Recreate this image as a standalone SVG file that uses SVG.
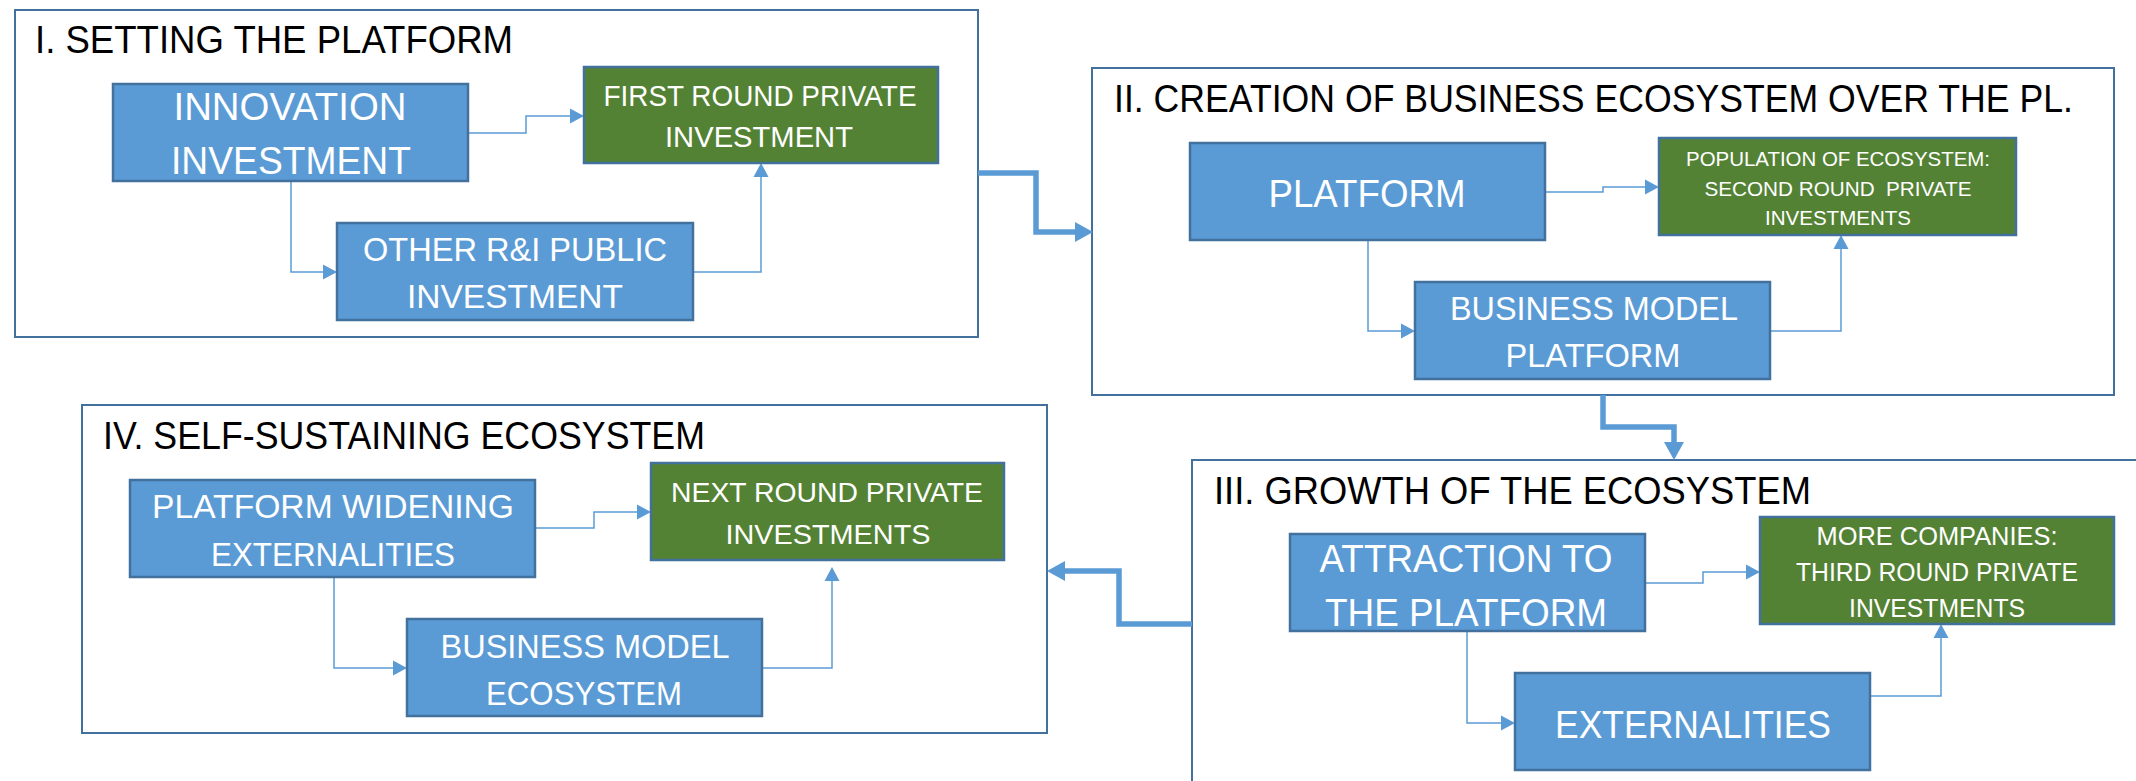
<svg xmlns="http://www.w3.org/2000/svg" width="2136" height="781" viewBox="0 0 2136 781">
<defs>
<style>
.frame{fill:#fff;stroke:#41719C;stroke-width:2}
.blue{fill:#5B9BD5;stroke:#41719C;stroke-width:2.5}
.green{fill:#548235;stroke:#41719C;stroke-width:2.5}
.title{font-family:"Liberation Sans",Arial,sans-serif;font-size:38px;fill:#000}
.t{font-family:"Liberation Sans",Arial,sans-serif;fill:#fff;text-anchor:middle}
.thin{fill:none;stroke:#5B9BD5;stroke-width:1.5}
.thick{fill:none;stroke:#5B9BD5;stroke-width:5.5}
</style>
<marker id="ah" markerUnits="userSpaceOnUse" markerWidth="14" markerHeight="15" refX="0" refY="7.5" orient="auto" overflow="visible">
<path d="M0,0 L14,7.5 L0,15 Z" fill="#5B9BD5"/>
</marker>
<marker id="ahT" markerUnits="userSpaceOnUse" markerWidth="18" markerHeight="20" refX="0" refY="10" orient="auto" overflow="visible">
<path d="M0,0 L18,10 L0,20 Z" fill="#5B9BD5"/>
</marker>
</defs>
<rect width="2136" height="781" fill="#fff"/>

<g id="frame1">
<rect class="frame" x="15" y="10" width="963" height="327"/>
<text class="title" x="35" y="53" textLength="478" lengthAdjust="spacingAndGlyphs">I. SETTING THE PLATFORM</text>
</g>
<g id="frame2">
<rect class="frame" x="1092" y="68" width="1022" height="327"/>
<text class="title" x="1114" y="112" textLength="959" lengthAdjust="spacingAndGlyphs">II. CREATION OF BUSINESS ECOSYSTEM OVER THE PL.</text>
</g>
<g id="frame3">
<rect class="frame" x="1192" y="460" width="1000" height="400"/>
<text class="title" x="1214" y="504" textLength="597" lengthAdjust="spacingAndGlyphs">III. GROWTH OF THE ECOSYSTEM</text>
</g>
<g id="frame4">
<rect class="frame" x="82" y="405" width="965" height="328"/>
<text class="title" x="103" y="449" textLength="602" lengthAdjust="spacingAndGlyphs">IV. SELF-SUSTAINING ECOSYSTEM</text>
</g>

<g id="connectors">
<path class="thick" d="M978,173 H1036 V232 H1075" marker-end="url(#ahT)"/>
<path class="thick" d="M1603,395 V427 H1674 V442" marker-end="url(#ahT)"/>
<path class="thick" d="M1192,624 H1119 V571 H1065" marker-end="url(#ahT)"/>

<path class="thin" d="M468,133 H526 V116 H570" marker-end="url(#ah)"/>
<path class="thin" d="M291,181 V272 H323" marker-end="url(#ah)"/>
<path class="thin" d="M693,272 H761 V177" marker-end="url(#ah)"/>

<path class="thin" d="M1545,192 H1603 V187 H1645" marker-end="url(#ah)"/>
<path class="thin" d="M1368,240 V331 H1401" marker-end="url(#ah)"/>
<path class="thin" d="M1770,331 H1841 V249" marker-end="url(#ah)"/>

<path class="thin" d="M1645,583 H1703 V572 H1746" marker-end="url(#ah)"/>
<path class="thin" d="M1467,631 V723 H1501" marker-end="url(#ah)"/>
<path class="thin" d="M1870,696 H1941 V638" marker-end="url(#ah)"/>

<path class="thin" d="M535,528 H594 V512 H637" marker-end="url(#ah)"/>
<path class="thin" d="M334,577 V668 H393" marker-end="url(#ah)"/>
<path class="thin" d="M762,668 H832 V581" marker-end="url(#ah)"/>
</g>

<g id="innovation">
<rect class="blue" x="113" y="84" width="355" height="97"/>
<text class="t" font-size="38" x="290" y="120" textLength="233" lengthAdjust="spacingAndGlyphs">INNOVATION</text>
<text class="t" font-size="38" x="291" y="174" textLength="240" lengthAdjust="spacingAndGlyphs">INVESTMENT</text>
</g>
<g id="first-round">
<rect class="green" x="584" y="67" width="354" height="96"/>
<text class="t" font-size="29" x="760" y="106" textLength="313" lengthAdjust="spacingAndGlyphs">FIRST ROUND PRIVATE</text>
<text class="t" font-size="29" x="759" y="147" textLength="188" lengthAdjust="spacingAndGlyphs">INVESTMENT</text>
</g>
<g id="other-ri">
<rect class="blue" x="337" y="223" width="356" height="97"/>
<text class="t" font-size="34" x="515" y="261" textLength="304" lengthAdjust="spacingAndGlyphs">OTHER R&amp;I PUBLIC</text>
<text class="t" font-size="34" x="515" y="308" textLength="216" lengthAdjust="spacingAndGlyphs">INVESTMENT</text>
</g>

<g id="platform">
<rect class="blue" x="1190" y="143" width="355" height="97"/>
<text class="t" font-size="38" x="1367" y="207" textLength="197" lengthAdjust="spacingAndGlyphs">PLATFORM</text>
</g>
<g id="population">
<rect class="green" x="1659" y="138" width="357" height="97"/>
<text class="t" font-size="20" x="1838" y="166" textLength="304" lengthAdjust="spacingAndGlyphs">POPULATION OF ECOSYSTEM:</text>
<text class="t" font-size="20" x="1838" y="196" textLength="267" lengthAdjust="spacingAndGlyphs" xml:space="preserve">SECOND ROUND  PRIVATE</text>
<text class="t" font-size="20" x="1838" y="225" textLength="146" lengthAdjust="spacingAndGlyphs">INVESTMENTS</text>
</g>
<g id="bm-platform">
<rect class="blue" x="1415" y="282" width="355" height="97"/>
<text class="t" font-size="33" x="1594" y="320" textLength="288" lengthAdjust="spacingAndGlyphs">BUSINESS MODEL</text>
<text class="t" font-size="33" x="1593" y="367" textLength="175" lengthAdjust="spacingAndGlyphs">PLATFORM</text>
</g>

<g id="attraction">
<rect class="blue" x="1290" y="534" width="355" height="97"/>
<text class="t" font-size="38" x="1466" y="572" textLength="293" lengthAdjust="spacingAndGlyphs">ATTRACTION TO</text>
<text class="t" font-size="38" x="1466" y="626" textLength="282" lengthAdjust="spacingAndGlyphs">THE PLATFORM</text>
</g>
<g id="more-companies">
<rect class="green" x="1760" y="517" width="354" height="107"/>
<text class="t" font-size="25" x="1937" y="545" textLength="241" lengthAdjust="spacingAndGlyphs">MORE COMPANIES:</text>
<text class="t" font-size="25" x="1937" y="581" textLength="282" lengthAdjust="spacingAndGlyphs">THIRD ROUND PRIVATE</text>
<text class="t" font-size="25" x="1937" y="617" textLength="176" lengthAdjust="spacingAndGlyphs">INVESTMENTS</text>
</g>
<g id="externalities">
<rect class="blue" x="1515" y="673" width="355" height="97"/>
<text class="t" font-size="38" x="1693" y="738" textLength="276" lengthAdjust="spacingAndGlyphs">EXTERNALITIES</text>
</g>

<g id="platform-widening">
<rect class="blue" x="130" y="480" width="405" height="97"/>
<text class="t" font-size="34" x="333" y="518" textLength="362" lengthAdjust="spacingAndGlyphs">PLATFORM WIDENING</text>
<text class="t" font-size="34" x="333" y="566" textLength="244" lengthAdjust="spacingAndGlyphs">EXTERNALITIES</text>
</g>
<g id="next-round">
<rect class="green" x="651" y="463" width="353" height="97"/>
<text class="t" font-size="28" x="827" y="502" textLength="312" lengthAdjust="spacingAndGlyphs">NEXT ROUND PRIVATE</text>
<text class="t" font-size="28" x="828" y="544" textLength="205" lengthAdjust="spacingAndGlyphs">INVESTMENTS</text>
</g>
<g id="bm-ecosystem">
<rect class="blue" x="407" y="619" width="355" height="97"/>
<text class="t" font-size="34" x="585" y="658" textLength="289" lengthAdjust="spacingAndGlyphs">BUSINESS MODEL</text>
<text class="t" font-size="34" x="584" y="705" textLength="196" lengthAdjust="spacingAndGlyphs">ECOSYSTEM</text>
</g>
</svg>
